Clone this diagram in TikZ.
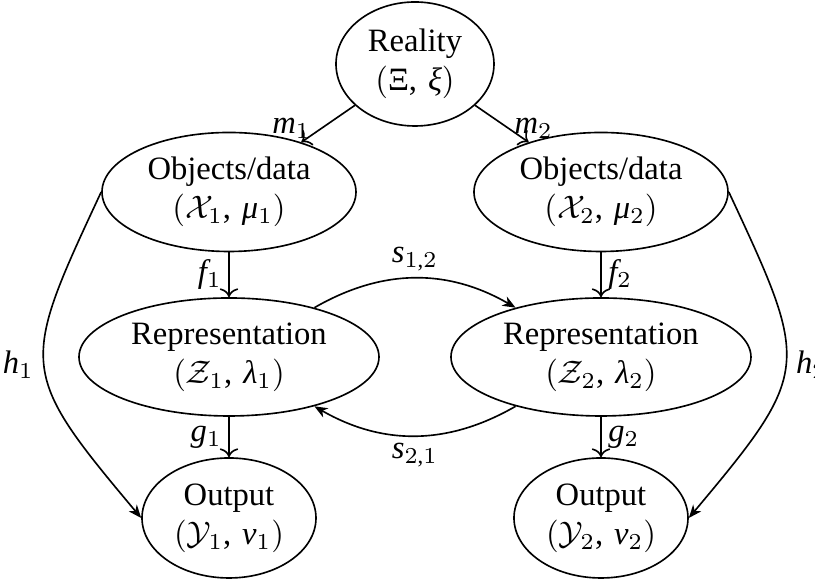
\documentclass[tikz,border=0pt]{standalone}
\usepackage{fontspec}
\setmainfont{Liberation Serif}
\newfontfamily\lserif[NFSSFamily=lser]{Liberation Serif}
\DeclareSymbolFont{tletters}{TU}{lser}{m}{it}
\DeclareSymbolFont{tupright}{TU}{lser}{m}{n}
\Umathcode`m=0 \symtletters `m\relax
\Umathcode`f=0 \symtletters `f\relax
\Umathcode`g=0 \symtletters `g\relax
\Umathcode`h=0 \symtletters `h\relax
\Umathcode`s=0 \symtletters `s\relax
\Umathcode`1=0 \symtupright `1\relax
\Umathcode`2=0 \symtupright `2\relax
\Umathcode`,=6 \symtupright `,\relax
\Umathcode`(=4 \symtupright `(\relax
\Umathcode`)=5 \symtupright `)\relax
\Umathchardef\tmu=0 \symtletters "03BC\relax
\Umathchardef\txi=0 \symtletters "03BE\relax
\Umathchardef\tlambda=0 \symtletters "03BB\relax
\Umathchardef\tnu=0 \symtletters "03BD\relax
\Umathchardef\tXi=0 \symtupright "039E\relax
\usetikzlibrary{shapes.geometric,arrows.meta}
\begin{document}
\begin{tikzpicture}[x=0.30675pt,y=-0.30675pt,
  ell/.style 2 args={draw, ellipse, line width=0.5pt, inner sep=0pt, align=center,
    minimum width=#1*0.30675pt, minimum height=#2*0.30675pt},
  conn/.style={line width=0.5pt, ->},
  curv/.style={line width=0.5pt, -{Stealth[length=4pt,width=3.2pt,inset=1.2pt]}},
  lab/.style={inner sep=2pt}]
\path[use as bounding box, clip] (0,0) rectangle (815,581);
\node[ell={158}{124}] (R) at (415,64) {Reality\\$(\tXi,\,\txi)$};
\node[ell={254}{119}] (O1) at (229,192) {Objects/data\\$(\mathcal{X}_1,\,\tmu_1)$};
\node[ell={254}{119}] (O2) at (601,192) {Objects/data\\$(\mathcal{X}_2,\,\tmu_2)$};
\node[ell={300}{118}] (Z1) at (229,357) {Representation\\$(\mathcal{Z}_1,\,\tlambda_1)$};
\node[ell={300}{118}] (Z2) at (601,357) {Representation\\$(\mathcal{Z}_2,\,\tlambda_2)$};
\node[ell={174}{120}] (Y1) at (229,518) {Output\\$(\mathcal{Y}_1,\,\tnu_1)$};
\node[ell={174}{120}] (Y2) at (601,518) {Output\\$(\mathcal{Y}_2,\,\tnu_2)$};
\draw[conn] (R) -- node[at end, above, lab, inner sep=1pt, xshift=-3pt] {$m_1$} (O1);
\draw[conn] (R) -- node[at end, above, lab, inner sep=1pt, xshift=1.5pt] {$m_2$} (O2);
\draw[conn] (O1) -- node[midway, left, lab] {$f_1$} (Z1);
\draw[conn] (O2) -- node[midway, right, lab] {$f_2$} (Z2);
\draw[conn] (Z1) -- node[midway, left, lab] {$g_1$} (Y1);
\draw[conn] (Z2) -- node[midway, right, lab] {$g_2$} (Y2);
\draw[curv] (Z1) to[bend left=30] node[midway, above, lab] {$s_{1,2}$} (Z2);
\draw[curv] (Z2) to[bend left=30] node[midway, below, lab] {$s_{2,1}$} (Z1);
\draw[curv] (O1.west) to[out=-115, in=130, looseness=1.5] node[pos=0.5, left, lab, inner sep=3pt] {$h_1$} (Y1.west);
\draw[curv] (O2.east) to[out=-65, in=50, looseness=1.5] node[pos=0.5, right, lab, inner sep=3pt] {$h_2$} (Y2.east);
\end{tikzpicture}
\end{document}
